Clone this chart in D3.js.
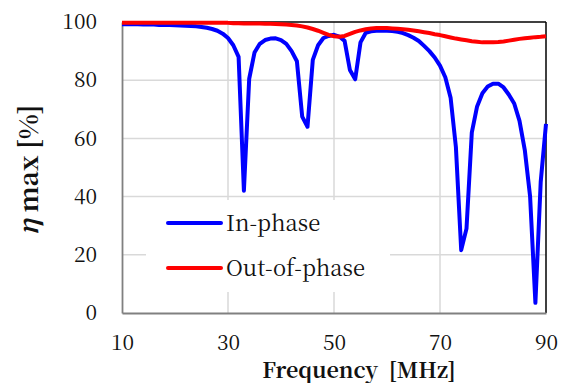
<!DOCTYPE html>
<html><head><meta charset="utf-8">
<script src="https://cdn.jsdelivr.net/npm/d3@7"></script>
<style>body{margin:0;background:#fff}svg{display:block}</style>
</head><body><svg id="c" width="567" height="383"></svg>
<script>
const freq = d3.range(10, 91);
const inPhase = [99.2,99.2,99.2,99.2,99.1,99.1,99.1,99.0,99.0,99.0,
  98.9,98.8,98.7,98.6,98.5,98.3,98.0,97.6,97.0,96.0,
  94.5,92.0,88.0,42.0,80.5,89.5,92.5,93.8,94.3,94.4,
  93.8,92.5,90.0,86.5,67.5,64.0,87.0,92.0,94.5,95.2,
  95.6,95.0,93.5,83.5,80.3,93.0,96.3,96.8,97.0,97.0,
  97.0,96.9,96.6,96.2,95.5,94.6,93.5,91.8,90.0,87.8,
  85.0,81.0,74.0,57.0,21.6,29.0,62.0,71.0,75.5,77.8,
  78.8,78.8,77.5,75.0,72.0,66.0,56.0,40.0,3.5,45.0,65.0];
const outPhase = [99.7,99.7,99.7,99.7,99.7,99.7,99.7,99.7,99.7,99.7,
  99.7,99.7,99.7,99.7,99.7,99.7,99.7,99.7,99.7,99.7,
  99.7,99.6,99.6,99.5,99.5,99.5,99.5,99.4,99.4,99.3,
  99.2,99.1,99.0,98.8,98.5,98.1,97.6,97.0,96.3,95.6,
  95.1,94.9,95.2,95.9,96.6,97.1,97.5,97.8,97.9,97.9,
  97.9,97.8,97.7,97.5,97.3,97.1,96.8,96.5,96.2,95.8,
  95.5,95.1,94.7,94.3,94.0,93.7,93.4,93.2,93.0,93.0,
  93.0,93.1,93.3,93.6,93.9,94.2,94.4,94.6,94.8,94.9,95.1];
const xTicks = [10,30,50,70,90];
const yTicks = [0,20,40,60,80,100];
const seriesNames = ["In-phase","Out-of-phase"];
const seriesColors = ["#0000ff","#ff0000"];
const FONT = "'Noto Serif CJK JP','Liberation Serif',serif";

const svg = d3.select("#c");
const L=122, R=546, T=22, B=313;
const x = d3.scaleLinear().domain([10,90]).range([L,R]);
const y = d3.scaleLinear().domain([0,100]).range([B,T]);

// gridlines
const g = svg.append("g");
g.selectAll(".hg").data(yTicks.filter(d=>d>0&&d<100)).join("line")
  .attr("x1",L).attr("x2",R).attr("y1",d=>y(d)).attr("y2",d=>y(d))
  .attr("stroke","#d9d9d9").attr("stroke-width",1.5);
g.selectAll(".vg").data(xTicks.filter(d=>d>10&&d<90)).join("line")
  .attr("y1",T).attr("y2",B).attr("x1",d=>x(d)).attr("x2",d=>x(d))
  .attr("stroke","#d9d9d9").attr("stroke-width",1.5);

// legend background box
svg.append("rect").attr("x",146).attr("y",200).attr("width",244).attr("height",92).attr("fill","#fff");

// frame
svg.append("line").attr("x1",L).attr("x2",R).attr("y1",T).attr("y2",T).attr("stroke","#000").attr("stroke-width",1.5);
svg.append("line").attr("x1",R).attr("x2",R).attr("y1",T).attr("y2",B).attr("stroke","#000").attr("stroke-width",1.5);

// axes
const xa = svg.append("g").attr("transform",`translate(0,${B})`)
  .call(d3.axisBottom(x).tickValues(xTicks).tickSize(0).tickPadding(22).tickFormat(d3.format("d")));
const ya = svg.append("g").attr("transform",`translate(${L},0)`)
  .call(d3.axisLeft(y).tickValues(yTicks).tickSize(0).tickPadding(25).tickFormat(d3.format("d")));
[xa,ya].forEach(a=>{
  a.attr("font-family",null).attr("font-size",null);
  a.select(".domain").attr("stroke","#808080").attr("stroke-width",1.8);
  a.selectAll("text").style("font-family",FONT).style("font-size","21px").attr("fill","#111");
});

// lines
const line = vals => d3.line().x((d,i)=>x(freq[i])).y(d=>y(d))(vals);
svg.append("path").attr("d",line(inPhase)).attr("fill","none").attr("stroke",seriesColors[0]).attr("stroke-width",4).attr("stroke-linejoin","round");
svg.append("path").attr("d",line(outPhase)).attr("fill","none").attr("stroke",seriesColors[1]).attr("stroke-width",4).attr("stroke-linejoin","round");

// legend
const leg = svg.append("g");
seriesNames.forEach((n,i)=>{
  const yy = 223 + i*45;
  leg.append("line").attr("x1",168).attr("x2",221).attr("y1",yy).attr("y2",yy).attr("stroke",seriesColors[i]).attr("stroke-width",4).attr("stroke-linecap","round");
  leg.append("text").attr("x",226).attr("y",yy+8).style("font-family",FONT).style("font-size","22px").attr("fill","#111").text(n);
});

// axis titles
svg.append("text").attr("x",359).attr("y",378).attr("text-anchor","middle")
  .style("font-family",FONT).style("font-size","21.5px").style("font-weight","bold").attr("fill","#111")
  .text("Frequency\u2002[MHz]");
const yt = svg.append("text").attr("transform","translate(38,170) rotate(-90)").attr("text-anchor","middle")
  .style("font-family",FONT).style("font-size","26px").style("font-weight","bold").attr("fill","#111");
yt.append("tspan").style("font-style","italic").text("η");
yt.append("tspan").text(" max [%]");
</script></body></html>
